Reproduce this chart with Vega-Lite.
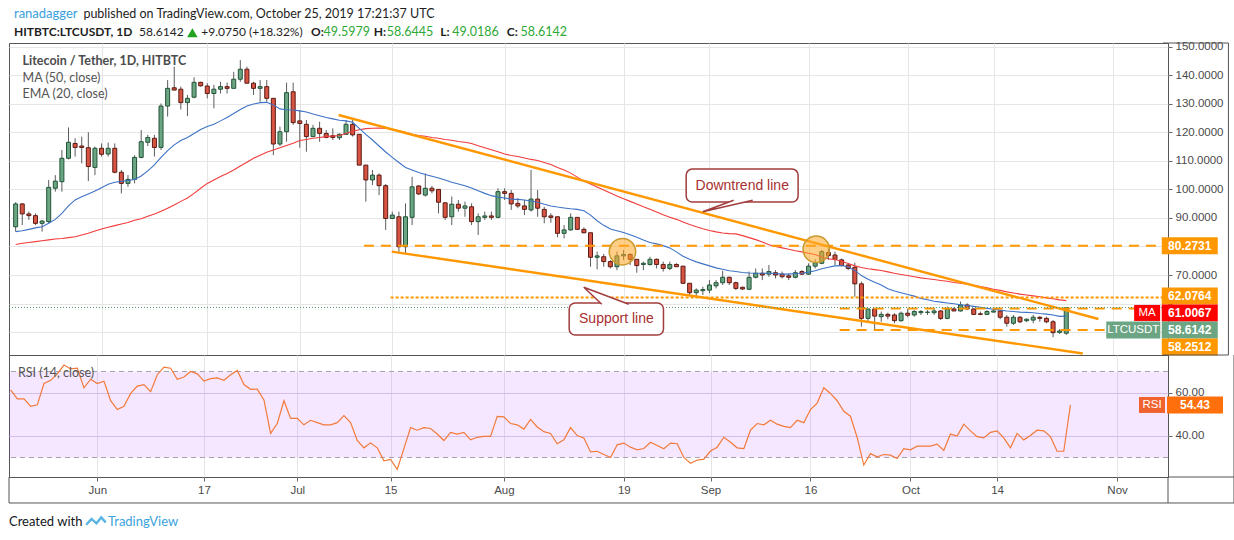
{
  "$schema": "https://vega.github.io/schema/vega-lite/v6.json",
  "background": "#ffffff",
  "padding": {"left": 7, "top": 7, "right": 0, "bottom": 0},
  "bounds": "flush",
  "spacing": 0,
  "config": {
    "font": "Liberation Sans",
    "view": {"stroke": "#555555", "strokeWidth": 1},
    "axis": {"labelColor": "#4a4a4a", "labelFontSize": 11.5, "tickColor": "#666666", "gridColor": "#e6e6e6", "domain": false}
  },
  "datasets": {
    "candles": [
      {"date": "2019-05-19", "open": 86.9, "high": 95.5, "low": 85.2, "close": 94.9, "ema": 85.2, "ma": 80.7, "rsi": 61.4},
      {"date": "2019-05-20", "open": 94.9, "high": 95.2, "low": 87.5, "close": 91.4, "ema": 85.5, "ma": 81.1, "rsi": 57.3},
      {"date": "2019-05-21", "open": 91.4, "high": 92.2, "low": 89.3, "close": 90.8, "ema": 86.0, "ma": 81.4, "rsi": 57.3},
      {"date": "2019-05-22", "open": 90.8, "high": 91.6, "low": 87.5, "close": 88.1, "ema": 86.5, "ma": 81.7, "rsi": 53.8},
      {"date": "2019-05-23", "open": 88.1, "high": 89.3, "low": 85.2, "close": 88.9, "ema": 86.9, "ma": 82.0, "rsi": 54.5},
      {"date": "2019-05-24", "open": 88.7, "high": 103.3, "low": 88.1, "close": 100.7, "ema": 88.1, "ma": 82.3, "rsi": 64.4},
      {"date": "2019-05-25", "open": 100.4, "high": 105.0, "low": 99.2, "close": 102.9, "ema": 89.5, "ma": 82.6, "rsi": 65.9},
      {"date": "2019-05-26", "open": 102.7, "high": 113.8, "low": 99.2, "close": 110.9, "ema": 91.6, "ma": 82.8, "rsi": 68.9},
      {"date": "2019-05-27", "open": 110.9, "high": 121.7, "low": 110.5, "close": 116.5, "ema": 94.2, "ma": 83.1, "rsi": 73.0},
      {"date": "2019-05-28", "open": 116.1, "high": 117.9, "low": 111.5, "close": 114.7, "ema": 96.3, "ma": 83.4, "rsi": 71.2},
      {"date": "2019-05-29", "open": 115.2, "high": 118.5, "low": 109.1, "close": 114.7, "ema": 97.4, "ma": 84.0, "rsi": 71.5},
      {"date": "2019-05-30", "open": 114.6, "high": 120.0, "low": 102.9, "close": 108.0, "ema": 98.4, "ma": 84.6, "rsi": 62.4},
      {"date": "2019-05-31", "open": 107.7, "high": 115.0, "low": 105.0, "close": 114.4, "ema": 99.4, "ma": 85.4, "rsi": 66.4},
      {"date": "2019-06-01", "open": 114.4, "high": 116.1, "low": 111.5, "close": 112.3, "ema": 100.6, "ma": 86.1, "rsi": 64.4},
      {"date": "2019-06-02", "open": 112.4, "high": 116.4, "low": 111.5, "close": 114.4, "ema": 101.8, "ma": 86.7, "rsi": 65.5},
      {"date": "2019-06-03", "open": 114.4, "high": 116.1, "low": 105.6, "close": 106.0, "ema": 102.5, "ma": 87.3, "rsi": 56.4},
      {"date": "2019-06-04", "open": 106.0, "high": 106.8, "low": 98.6, "close": 102.1, "ema": 102.8, "ma": 87.9, "rsi": 52.3},
      {"date": "2019-06-05", "open": 102.1, "high": 105.0, "low": 100.9, "close": 103.5, "ema": 103.1, "ma": 88.4, "rsi": 53.8},
      {"date": "2019-06-06", "open": 103.5, "high": 112.0, "low": 102.1, "close": 111.2, "ema": 103.5, "ma": 89.2, "rsi": 59.8},
      {"date": "2019-06-07", "open": 111.2, "high": 120.8, "low": 110.9, "close": 116.7, "ema": 104.7, "ma": 89.7, "rsi": 63.2},
      {"date": "2019-06-08", "open": 116.5, "high": 119.1, "low": 115.2, "close": 118.2, "ema": 106.5, "ma": 90.6, "rsi": 63.9},
      {"date": "2019-06-09", "open": 117.9, "high": 119.1, "low": 111.5, "close": 114.7, "ema": 108.6, "ma": 91.4, "rsi": 60.6},
      {"date": "2019-06-10", "open": 114.7, "high": 130.1, "low": 113.8, "close": 129.2, "ema": 111.2, "ma": 92.3, "rsi": 68.5},
      {"date": "2019-06-11", "open": 129.2, "high": 138.3, "low": 125.5, "close": 135.4, "ema": 113.6, "ma": 93.4, "rsi": 72.0},
      {"date": "2019-06-12", "open": 135.6, "high": 143.0, "low": 134.8, "close": 134.8, "ema": 115.6, "ma": 94.5, "rsi": 71.5},
      {"date": "2019-06-13", "open": 135.1, "high": 136.0, "low": 128.0, "close": 130.4, "ema": 117.1, "ma": 95.8, "rsi": 66.4},
      {"date": "2019-06-14", "open": 130.4, "high": 133.1, "low": 125.7, "close": 131.9, "ema": 118.2, "ma": 97.0, "rsi": 67.4},
      {"date": "2019-06-15", "open": 132.3, "high": 139.3, "low": 131.9, "close": 137.5, "ema": 119.6, "ma": 98.6, "rsi": 70.0},
      {"date": "2019-06-16", "open": 137.5, "high": 137.7, "low": 136.0, "close": 136.3, "ema": 121.0, "ma": 100.4, "rsi": 68.9},
      {"date": "2019-06-17", "open": 136.2, "high": 137.2, "low": 131.9, "close": 133.6, "ema": 122.0, "ma": 102.1, "rsi": 65.5},
      {"date": "2019-06-18", "open": 133.6, "high": 136.6, "low": 128.4, "close": 135.1, "ema": 122.8, "ma": 103.3, "rsi": 66.7},
      {"date": "2019-06-19", "open": 135.1, "high": 137.7, "low": 133.6, "close": 136.0, "ema": 124.0, "ma": 104.5, "rsi": 67.0},
      {"date": "2019-06-20", "open": 136.0, "high": 137.4, "low": 133.6, "close": 135.4, "ema": 125.2, "ma": 105.6, "rsi": 65.9},
      {"date": "2019-06-21", "open": 135.4, "high": 141.2, "low": 135.4, "close": 138.6, "ema": 126.6, "ma": 106.8, "rsi": 68.5},
      {"date": "2019-06-22", "open": 138.6, "high": 145.3, "low": 137.7, "close": 142.1, "ema": 128.0, "ma": 108.2, "rsi": 70.5},
      {"date": "2019-06-23", "open": 142.1, "high": 143.0, "low": 137.2, "close": 137.2, "ema": 129.2, "ma": 109.5, "rsi": 63.9},
      {"date": "2019-06-24", "open": 137.2, "high": 137.7, "low": 133.1, "close": 135.4, "ema": 129.9, "ma": 110.9, "rsi": 61.7},
      {"date": "2019-06-25", "open": 135.4, "high": 138.3, "low": 130.7, "close": 136.0, "ema": 130.4, "ma": 112.0, "rsi": 61.8},
      {"date": "2019-06-26", "open": 136.0, "high": 138.3, "low": 130.7, "close": 131.9, "ema": 130.5, "ma": 113.0, "rsi": 56.8},
      {"date": "2019-06-27", "open": 131.9, "high": 131.9, "low": 112.0, "close": 115.9, "ema": 129.6, "ma": 113.8, "rsi": 41.2},
      {"date": "2019-06-28", "open": 115.9, "high": 122.0, "low": 115.2, "close": 120.2, "ema": 128.2, "ma": 114.6, "rsi": 45.8},
      {"date": "2019-06-29", "open": 120.2, "high": 137.4, "low": 116.7, "close": 133.9, "ema": 127.9, "ma": 115.4, "rsi": 56.4},
      {"date": "2019-06-30", "open": 134.2, "high": 137.4, "low": 122.6, "close": 123.4, "ema": 127.8, "ma": 116.2, "rsi": 48.2},
      {"date": "2019-07-01", "open": 124.0, "high": 127.8, "low": 114.6, "close": 123.1, "ema": 127.5, "ma": 117.1, "rsi": 48.2},
      {"date": "2019-07-02", "open": 122.8, "high": 124.3, "low": 113.2, "close": 118.5, "ema": 127.1, "ma": 117.5, "rsi": 45.2},
      {"date": "2019-07-03", "open": 118.5, "high": 122.6, "low": 118.5, "close": 121.4, "ema": 126.4, "ma": 117.9, "rsi": 47.3},
      {"date": "2019-07-04", "open": 121.4, "high": 123.7, "low": 116.7, "close": 119.6, "ema": 125.8, "ma": 118.2, "rsi": 46.2},
      {"date": "2019-07-05", "open": 119.6, "high": 120.8, "low": 117.9, "close": 118.2, "ema": 125.2, "ma": 118.5, "rsi": 45.2},
      {"date": "2019-07-06", "open": 118.8, "high": 121.4, "low": 117.3, "close": 118.2, "ema": 124.7, "ma": 118.7, "rsi": 45.2},
      {"date": "2019-07-07", "open": 118.1, "high": 119.6, "low": 117.3, "close": 119.3, "ema": 124.2, "ma": 118.9, "rsi": 46.2},
      {"date": "2019-07-08", "open": 119.3, "high": 124.3, "low": 119.3, "close": 122.8, "ema": 124.0, "ma": 119.6, "rsi": 49.5},
      {"date": "2019-07-09", "open": 122.8, "high": 124.3, "low": 118.5, "close": 119.1, "ema": 123.5, "ma": 120.4, "rsi": 46.2},
      {"date": "2019-07-10", "open": 119.3, "high": 119.3, "low": 108.5, "close": 108.5, "ema": 121.4, "ma": 120.9, "rsi": 37.9},
      {"date": "2019-07-11", "open": 108.5, "high": 108.5, "low": 95.7, "close": 103.3, "ema": 119.3, "ma": 121.3, "rsi": 34.5},
      {"date": "2019-07-12", "open": 103.3, "high": 106.8, "low": 101.5, "close": 105.0, "ema": 117.3, "ma": 121.4, "rsi": 36.8},
      {"date": "2019-07-13", "open": 105.0, "high": 105.6, "low": 98.0, "close": 101.3, "ema": 115.2, "ma": 121.5, "rsi": 34.5},
      {"date": "2019-07-14", "open": 101.3, "high": 101.9, "low": 85.8, "close": 89.8, "ema": 113.1, "ma": 121.4, "rsi": 28.5},
      {"date": "2019-07-15", "open": 89.8, "high": 92.2, "low": 89.8, "close": 91.0, "ema": 111.2, "ma": 121.0, "rsi": 29.1},
      {"date": "2019-07-16", "open": 90.4, "high": 92.2, "low": 77.6, "close": 79.9, "ema": 109.4, "ma": 120.5, "rsi": 24.5},
      {"date": "2019-07-17", "open": 79.9, "high": 95.1, "low": 77.6, "close": 90.4, "ema": 107.7, "ma": 120.0, "rsi": 34.1},
      {"date": "2019-07-18", "open": 90.2, "high": 104.4, "low": 87.5, "close": 100.9, "ema": 106.8, "ma": 119.3, "rsi": 43.9},
      {"date": "2019-07-19", "open": 101.2, "high": 101.5, "low": 98.0, "close": 98.4, "ema": 105.9, "ma": 118.9, "rsi": 42.7},
      {"date": "2019-07-20", "open": 98.0, "high": 105.6, "low": 97.5, "close": 100.4, "ema": 105.2, "ma": 118.6, "rsi": 43.9},
      {"date": "2019-07-21", "open": 100.4, "high": 101.2, "low": 98.6, "close": 99.5, "ema": 104.6, "ma": 118.2, "rsi": 43.5},
      {"date": "2019-07-22", "open": 100.0, "high": 100.0, "low": 91.6, "close": 95.5, "ema": 104.0, "ma": 117.9, "rsi": 40.9},
      {"date": "2019-07-23", "open": 95.3, "high": 95.3, "low": 89.3, "close": 90.2, "ema": 103.3, "ma": 117.5, "rsi": 37.9},
      {"date": "2019-07-24", "open": 90.4, "high": 97.5, "low": 87.5, "close": 94.8, "ema": 102.5, "ma": 117.2, "rsi": 41.7},
      {"date": "2019-07-25", "open": 94.8, "high": 96.3, "low": 92.2, "close": 93.4, "ema": 101.9, "ma": 116.8, "rsi": 40.9},
      {"date": "2019-07-26", "open": 93.4, "high": 95.7, "low": 90.4, "close": 94.2, "ema": 101.3, "ma": 116.5, "rsi": 41.7},
      {"date": "2019-07-27", "open": 93.9, "high": 95.1, "low": 87.5, "close": 88.7, "ema": 100.5, "ma": 116.1, "rsi": 38.2},
      {"date": "2019-07-28", "open": 88.7, "high": 91.6, "low": 84.0, "close": 90.4, "ema": 99.5, "ma": 115.3, "rsi": 39.4},
      {"date": "2019-07-29", "open": 90.2, "high": 92.2, "low": 89.3, "close": 90.7, "ema": 98.6, "ma": 114.6, "rsi": 39.8},
      {"date": "2019-07-30", "open": 90.7, "high": 92.2, "low": 89.3, "close": 90.2, "ema": 97.8, "ma": 113.9, "rsi": 39.8},
      {"date": "2019-07-31", "open": 90.2, "high": 100.4, "low": 89.9, "close": 99.2, "ema": 97.3, "ma": 113.2, "rsi": 49.1},
      {"date": "2019-08-01", "open": 99.2, "high": 100.4, "low": 96.3, "close": 98.6, "ema": 97.0, "ma": 112.4, "rsi": 48.9},
      {"date": "2019-08-02", "open": 98.6, "high": 99.8, "low": 92.8, "close": 94.9, "ema": 96.6, "ma": 111.9, "rsi": 45.8},
      {"date": "2019-08-03", "open": 95.1, "high": 96.9, "low": 93.4, "close": 94.2, "ema": 96.5, "ma": 111.5, "rsi": 45.2},
      {"date": "2019-08-04", "open": 94.2, "high": 96.3, "low": 91.0, "close": 93.0, "ema": 96.3, "ma": 111.0, "rsi": 43.2},
      {"date": "2019-08-05", "open": 92.8, "high": 106.8, "low": 92.2, "close": 96.6, "ema": 95.9, "ma": 110.5, "rsi": 47.7},
      {"date": "2019-08-06", "open": 96.6, "high": 99.8, "low": 90.4, "close": 93.4, "ema": 95.5, "ma": 110.1, "rsi": 44.2},
      {"date": "2019-08-07", "open": 93.0, "high": 93.9, "low": 88.1, "close": 90.4, "ema": 94.8, "ma": 109.4, "rsi": 42.0},
      {"date": "2019-08-08", "open": 90.7, "high": 91.6, "low": 88.3, "close": 90.2, "ema": 94.2, "ma": 108.7, "rsi": 41.2},
      {"date": "2019-08-09", "open": 90.4, "high": 90.4, "low": 83.2, "close": 84.6, "ema": 93.8, "ma": 107.7, "rsi": 36.4},
      {"date": "2019-08-10", "open": 84.6, "high": 87.5, "low": 82.8, "close": 85.8, "ema": 93.5, "ma": 106.8, "rsi": 38.2},
      {"date": "2019-08-11", "open": 85.8, "high": 91.6, "low": 85.5, "close": 90.2, "ema": 93.2, "ma": 105.7, "rsi": 43.9},
      {"date": "2019-08-12", "open": 90.2, "high": 90.2, "low": 85.8, "close": 86.0, "ema": 93.0, "ma": 104.3, "rsi": 40.2},
      {"date": "2019-08-13", "open": 86.0, "high": 86.7, "low": 84.6, "close": 84.8, "ema": 92.5, "ma": 102.9, "rsi": 39.1},
      {"date": "2019-08-14", "open": 84.8, "high": 84.8, "low": 72.9, "close": 76.2, "ema": 91.0, "ma": 101.9, "rsi": 32.6},
      {"date": "2019-08-15", "open": 76.2, "high": 78.2, "low": 72.0, "close": 76.7, "ema": 89.0, "ma": 100.8, "rsi": 32.9},
      {"date": "2019-08-16", "open": 76.4, "high": 77.4, "low": 72.9, "close": 74.7, "ema": 87.4, "ma": 99.8, "rsi": 31.4},
      {"date": "2019-08-17", "open": 74.7, "high": 75.2, "low": 72.3, "close": 72.9, "ema": 86.1, "ma": 98.7, "rsi": 30.0},
      {"date": "2019-08-18", "open": 72.9, "high": 78.2, "low": 71.7, "close": 76.7, "ema": 85.5, "ma": 97.7, "rsi": 35.9},
      {"date": "2019-08-19", "open": 76.7, "high": 78.8, "low": 75.2, "close": 77.2, "ema": 84.9, "ma": 96.7, "rsi": 36.7},
      {"date": "2019-08-20", "open": 77.2, "high": 77.6, "low": 73.5, "close": 75.5, "ema": 84.1, "ma": 95.8, "rsi": 34.8},
      {"date": "2019-08-21", "open": 75.5, "high": 75.5, "low": 70.8, "close": 73.3, "ema": 83.2, "ma": 94.9, "rsi": 33.6},
      {"date": "2019-08-22", "open": 73.7, "high": 74.7, "low": 71.7, "close": 74.1, "ema": 82.3, "ma": 93.9, "rsi": 34.2},
      {"date": "2019-08-23", "open": 73.7, "high": 76.4, "low": 73.3, "close": 75.5, "ema": 81.4, "ma": 93.0, "rsi": 37.1},
      {"date": "2019-08-24", "open": 75.5, "high": 75.8, "low": 72.3, "close": 73.7, "ema": 80.9, "ma": 92.1, "rsi": 35.6},
      {"date": "2019-08-25", "open": 73.7, "high": 74.7, "low": 71.2, "close": 72.3, "ema": 80.3, "ma": 91.1, "rsi": 34.1},
      {"date": "2019-08-26", "open": 72.3, "high": 74.7, "low": 71.7, "close": 73.7, "ema": 79.5, "ma": 90.2, "rsi": 36.7},
      {"date": "2019-08-27", "open": 73.7, "high": 74.1, "low": 72.9, "close": 72.9, "ema": 78.1, "ma": 89.5, "rsi": 36.4},
      {"date": "2019-08-28", "open": 73.1, "high": 73.1, "low": 66.8, "close": 67.1, "ema": 76.6, "ma": 88.6, "rsi": 30.0},
      {"date": "2019-08-29", "open": 67.1, "high": 67.1, "low": 63.0, "close": 63.8, "ema": 75.5, "ma": 87.7, "rsi": 27.3},
      {"date": "2019-08-30", "open": 63.8, "high": 65.3, "low": 62.4, "close": 64.7, "ema": 74.6, "ma": 86.9, "rsi": 28.8},
      {"date": "2019-08-31", "open": 64.5, "high": 65.9, "low": 63.0, "close": 64.9, "ema": 73.9, "ma": 86.2, "rsi": 29.2},
      {"date": "2019-09-01", "open": 64.7, "high": 68.2, "low": 63.6, "close": 66.5, "ema": 73.2, "ma": 85.6, "rsi": 33.0},
      {"date": "2019-09-02", "open": 66.2, "high": 68.2, "low": 65.3, "close": 67.3, "ema": 72.5, "ma": 85.1, "rsi": 34.8},
      {"date": "2019-09-03", "open": 67.3, "high": 71.5, "low": 66.5, "close": 69.2, "ema": 72.0, "ma": 84.7, "rsi": 39.4},
      {"date": "2019-09-04", "open": 69.2, "high": 69.4, "low": 66.5, "close": 67.3, "ema": 71.5, "ma": 84.5, "rsi": 37.1},
      {"date": "2019-09-05", "open": 67.3, "high": 67.7, "low": 64.7, "close": 65.3, "ema": 71.2, "ma": 84.4, "rsi": 34.5},
      {"date": "2019-09-06", "open": 65.7, "high": 65.9, "low": 64.7, "close": 65.1, "ema": 70.9, "ma": 83.8, "rsi": 34.1},
      {"date": "2019-09-07", "open": 65.0, "high": 71.2, "low": 64.7, "close": 69.2, "ema": 70.7, "ma": 83.1, "rsi": 42.7},
      {"date": "2019-09-08", "open": 69.2, "high": 72.3, "low": 68.8, "close": 70.6, "ema": 70.6, "ma": 82.4, "rsi": 45.8},
      {"date": "2019-09-09", "open": 70.6, "high": 72.3, "low": 68.2, "close": 70.0, "ema": 70.6, "ma": 81.6, "rsi": 45.2},
      {"date": "2019-09-10", "open": 70.3, "high": 73.5, "low": 69.4, "close": 71.2, "ema": 70.6, "ma": 80.6, "rsi": 47.3},
      {"date": "2019-09-11", "open": 70.8, "high": 71.7, "low": 68.8, "close": 70.0, "ema": 70.5, "ma": 80.0, "rsi": 45.5},
      {"date": "2019-09-12", "open": 70.3, "high": 71.2, "low": 68.8, "close": 69.4, "ema": 70.3, "ma": 79.5, "rsi": 44.5},
      {"date": "2019-09-13", "open": 69.7, "high": 70.6, "low": 68.2, "close": 69.2, "ema": 70.3, "ma": 79.0, "rsi": 43.9},
      {"date": "2019-09-14", "open": 69.2, "high": 71.7, "low": 68.8, "close": 70.8, "ema": 70.5, "ma": 78.5, "rsi": 47.3},
      {"date": "2019-09-15", "open": 71.2, "high": 71.7, "low": 70.0, "close": 70.3, "ema": 70.6, "ma": 78.1, "rsi": 46.2},
      {"date": "2019-09-16", "open": 70.3, "high": 74.1, "low": 70.0, "close": 73.1, "ema": 71.0, "ma": 77.6, "rsi": 52.3},
      {"date": "2019-09-17", "open": 73.1, "high": 75.5, "low": 72.3, "close": 74.3, "ema": 71.5, "ma": 77.2, "rsi": 55.3},
      {"date": "2019-09-18", "open": 74.1, "high": 78.8, "low": 73.8, "close": 78.2, "ema": 72.2, "ma": 76.2, "rsi": 62.4},
      {"date": "2019-09-19", "open": 77.9, "high": 79.3, "low": 75.3, "close": 76.8, "ema": 72.7, "ma": 75.7, "rsi": 59.8},
      {"date": "2019-09-20", "open": 77.0, "high": 78.2, "low": 73.5, "close": 75.5, "ema": 73.2, "ma": 75.4, "rsi": 56.4},
      {"date": "2019-09-21", "open": 75.3, "high": 75.8, "low": 73.0, "close": 73.3, "ema": 73.3, "ma": 74.8, "rsi": 51.5},
      {"date": "2019-09-22", "open": 73.5, "high": 74.1, "low": 71.7, "close": 72.3, "ema": 72.8, "ma": 74.0, "rsi": 49.2},
      {"date": "2019-09-23", "open": 72.7, "high": 74.3, "low": 62.4, "close": 66.9, "ema": 71.6, "ma": 73.2, "rsi": 39.4},
      {"date": "2019-09-24", "open": 66.9, "high": 67.7, "low": 51.9, "close": 54.8, "ema": 69.8, "ma": 72.6, "rsi": 26.5},
      {"date": "2019-09-25", "open": 54.8, "high": 58.1, "low": 53.6, "close": 58.1, "ema": 68.5, "ma": 72.2, "rsi": 31.8},
      {"date": "2019-09-26", "open": 58.1, "high": 58.1, "low": 50.7, "close": 55.6, "ema": 67.5, "ma": 71.9, "rsi": 30.3},
      {"date": "2019-09-27", "open": 55.4, "high": 57.2, "low": 53.6, "close": 56.2, "ema": 66.5, "ma": 71.6, "rsi": 31.4},
      {"date": "2019-09-28", "open": 56.2, "high": 56.8, "low": 54.5, "close": 55.6, "ema": 65.2, "ma": 71.1, "rsi": 31.1},
      {"date": "2019-09-29", "open": 56.0, "high": 56.6, "low": 53.1, "close": 54.0, "ema": 64.4, "ma": 70.6, "rsi": 29.5},
      {"date": "2019-09-30", "open": 54.0, "high": 57.2, "low": 53.6, "close": 56.6, "ema": 63.8, "ma": 70.2, "rsi": 34.1},
      {"date": "2019-10-01", "open": 56.6, "high": 58.1, "low": 55.2, "close": 55.9, "ema": 63.2, "ma": 69.8, "rsi": 33.6},
      {"date": "2019-10-02", "open": 56.0, "high": 57.7, "low": 55.4, "close": 57.2, "ema": 62.6, "ma": 69.4, "rsi": 35.3},
      {"date": "2019-10-03", "open": 56.8, "high": 57.7, "low": 56.0, "close": 57.2, "ema": 61.8, "ma": 69.0, "rsi": 35.3},
      {"date": "2019-10-04", "open": 56.9, "high": 57.7, "low": 56.0, "close": 57.0, "ema": 61.3, "ma": 68.7, "rsi": 35.3},
      {"date": "2019-10-05", "open": 56.8, "high": 58.3, "low": 56.0, "close": 57.4, "ema": 60.8, "ma": 68.4, "rsi": 36.2},
      {"date": "2019-10-06", "open": 57.4, "high": 57.7, "low": 54.2, "close": 54.8, "ema": 60.5, "ma": 68.1, "rsi": 33.3},
      {"date": "2019-10-07", "open": 54.8, "high": 58.9, "low": 54.5, "close": 58.1, "ema": 60.2, "ma": 67.8, "rsi": 40.9},
      {"date": "2019-10-08", "open": 58.1, "high": 58.7, "low": 57.4, "close": 57.4, "ema": 59.9, "ma": 67.4, "rsi": 40.0},
      {"date": "2019-10-09", "open": 57.4, "high": 60.7, "low": 57.2, "close": 59.5, "ema": 59.6, "ma": 67.1, "rsi": 45.5},
      {"date": "2019-10-10", "open": 59.5, "high": 60.1, "low": 57.7, "close": 58.1, "ema": 59.3, "ma": 66.8, "rsi": 42.4},
      {"date": "2019-10-11", "open": 58.1, "high": 58.3, "low": 56.0, "close": 56.2, "ema": 59.0, "ma": 66.4, "rsi": 39.7},
      {"date": "2019-10-12", "open": 56.4, "high": 57.2, "low": 55.9, "close": 56.2, "ema": 58.7, "ma": 66.0, "rsi": 39.1},
      {"date": "2019-10-13", "open": 56.2, "high": 57.7, "low": 56.0, "close": 57.2, "ema": 58.3, "ma": 65.5, "rsi": 41.7},
      {"date": "2019-10-14", "open": 57.0, "high": 58.0, "low": 57.0, "close": 57.4, "ema": 58.0, "ma": 65.0, "rsi": 42.4},
      {"date": "2019-10-15", "open": 57.4, "high": 57.7, "low": 54.5, "close": 55.2, "ema": 57.7, "ma": 64.6, "rsi": 39.1},
      {"date": "2019-10-16", "open": 55.2, "high": 56.0, "low": 51.9, "close": 53.1, "ema": 57.4, "ma": 64.1, "rsi": 34.5},
      {"date": "2019-10-17", "open": 53.1, "high": 56.0, "low": 52.5, "close": 55.2, "ema": 57.2, "ma": 63.7, "rsi": 41.2},
      {"date": "2019-10-18", "open": 55.2, "high": 55.6, "low": 53.1, "close": 53.6, "ema": 57.0, "ma": 63.3, "rsi": 38.2},
      {"date": "2019-10-19", "open": 54.0, "high": 54.8, "low": 53.5, "close": 54.5, "ema": 56.9, "ma": 63.0, "rsi": 40.2},
      {"date": "2019-10-20", "open": 54.2, "high": 56.0, "low": 53.1, "close": 55.2, "ema": 56.8, "ma": 62.7, "rsi": 42.7},
      {"date": "2019-10-21", "open": 55.2, "high": 55.6, "low": 53.6, "close": 54.8, "ema": 56.5, "ma": 62.4, "rsi": 42.4},
      {"date": "2019-10-22", "open": 54.8, "high": 55.4, "low": 53.1, "close": 53.6, "ema": 56.3, "ma": 62.0, "rsi": 39.7},
      {"date": "2019-10-23", "open": 53.6, "high": 54.2, "low": 48.2, "close": 49.8, "ema": 56.0, "ma": 61.7, "rsi": 32.9},
      {"date": "2019-10-24", "open": 49.9, "high": 51.0, "low": 49.3, "close": 50.4, "ema": 55.5, "ma": 61.3, "rsi": 32.9},
      {"date": "2019-10-25", "open": 49.5979, "high": 58.6445, "low": 49.0186, "close": 58.6142, "ema": 55.6, "ma": 61.0067, "rsi": 54.43}
    ],
    "trend": [
      {"line": "Downtrend line", "date": "2019-07-06T21:00:00Z", "price": 126.06},
      {"line": "Downtrend line", "date": "2019-10-29T21:00:00Z", "price": 54.58},
      {"line": "Support line", "date": "2019-07-14T22:00:00Z", "price": 78.2},
      {"line": "Support line", "date": "2019-10-27T12:00:00Z", "price": 42.5}
    ],
    "levels": [
      {"price": 80.2731, "date": "2019-07-10T17:00:00Z", "end": "2019-11-08T15:22:00Z", "style": "dashed"},
      {"price": 62.0764, "date": "2019-07-14T18:00:00Z", "end": "2019-11-08T15:22:00Z", "style": "dotted"},
      {"price": 58.2512, "date": "2019-09-20T17:00:00Z", "end": "2019-11-08T15:22:00Z", "style": "dashed"},
      {"price": 50.7, "date": "2019-09-20T17:00:00Z", "end": "2019-11-08T15:22:00Z", "style": "dashed"}
    ],
    "circles": [
      {"date": "2019-08-18T20:00:00Z", "price": 78.16},
      {"date": "2019-09-17T04:00:00Z", "price": 79.0}
    ],
    "callouts": [
      {"label": "Downtrend line", "date": "2019-08-28T11:30:00Z", "end": "2019-09-14T10:00:00Z", "top": 107.1, "bottom": 95.6, "mid": "2019-09-05T23:00:00Z", "center": 101.35},
      {"label": "Support line", "date": "2019-08-10T18:30:00Z", "end": "2019-08-25T01:00:00Z", "top": 60.2, "bottom": 49.0, "mid": "2019-08-17T22:00:00Z", "center": 54.6}
    ],
    "tags": [
      {"label": "80.2731", "level": 80.2731, "kind": "level"},
      {"label": "62.0764", "level": 62.6, "kind": "level"},
      {"label": "61.0067", "level": 56.7, "kind": "ma"},
      {"label": "58.6142", "level": 50.7, "kind": "last"},
      {"label": "58.2512", "level": 44.8, "kind": "level"}
    ]
  },
  "vconcat": [
    {
      "width": 1159,
      "height": 312,
      "data": {"name": "candles"},
      "layer": [
        {
          "mark": {"type": "rule", "color": "#5c5c5c", "strokeWidth": 1},
          "encoding": {
            "x": {
              "field": "date", "type": "temporal",
              "scale": {"type": "utc", "domain": [{"year": 2019, "month": 5, "date": 18, "hours": 18, "utc": true}, {"year": 2019, "month": 11, "date": 8, "hours": 15, "minutes": 22, "utc": true}]},
              "axis": {
                "values": [{"year": 2019, "month": 6, "date": 1, "utc": true}, {"year": 2019, "month": 6, "date": 17, "utc": true}, {"year": 2019, "month": 7, "date": 1, "utc": true}, {"year": 2019, "month": 7, "date": 15, "utc": true}, {"year": 2019, "month": 8, "date": 1, "utc": true}, {"year": 2019, "month": 8, "date": 19, "utc": true}, {"year": 2019, "month": 9, "date": 1, "utc": true}, {"year": 2019, "month": 9, "date": 16, "utc": true}, {"year": 2019, "month": 10, "date": 1, "utc": true}, {"year": 2019, "month": 10, "date": 14, "utc": true}, {"year": 2019, "month": 11, "date": 1, "utc": true}],
                "tickCount": 40,
                "labels": false, "ticks": false, "domain": false, "grid": true, "title": null
              }
            },
            "y": {
              "field": "low", "type": "quantitative",
              "scale": {"domain": [41.97, 151.29], "nice": false, "zero": false},
              "axis": {
                "orient": "right",
                "values": [50, 60, 70, 80, 90, 100, 110, 120, 130, 140, 150],
                "tickCount": 20,
                "labelExpr": "datum.value == 50 || datum.value == 60 || datum.value == 80 ? '' : format(datum.value, '.4f')",
                "labelOverlap": false, "labelFlush": false,
                "tickSize": 4, "labelPadding": 3, "grid": true, "title": null
              }
            },
            "y2": {"field": "high"}
          }
        },
        {
          "mark": {"type": "bar", "width": 4, "strokeWidth": 1},
          "encoding": {
            "x": {"field": "date", "type": "temporal"},
            "y": {"field": "open", "type": "quantitative"},
            "y2": {"field": "close"},
            "fill": {"condition": {"test": "datum.close >= datum.open", "value": "#6ba583"}, "value": "#d75442"},
            "stroke": {"condition": {"test": "datum.close >= datum.open", "value": "#225437"}, "value": "#5b1a13"}
          }
        },
        {
          "mark": {"type": "line", "color": "#f23b3b", "strokeWidth": 1.1},
          "encoding": {
            "x": {"field": "date", "type": "temporal"},
            "y": {"field": "ma", "type": "quantitative"}
          }
        },
        {
          "mark": {"type": "line", "color": "#3d72c6", "strokeWidth": 1.1},
          "encoding": {
            "x": {"field": "date", "type": "temporal"},
            "y": {"field": "ema", "type": "quantitative"}
          }
        },
        {
          "data": {"name": "trend"},
          "mark": {"type": "line", "color": "#ff9800", "strokeWidth": 2.4},
          "encoding": {
            "x": {"field": "date", "type": "temporal"},
            "y": {"field": "price", "type": "quantitative"},
            "detail": {"field": "line"}
          }
        },
        {
          "data": {"name": "levels"},
          "mark": {"type": "rule", "color": "#ff9800", "strokeWidth": 2},
          "encoding": {
            "x": {"field": "date", "type": "temporal"},
            "x2": {"field": "end"},
            "y": {"field": "price", "type": "quantitative"},
            "strokeDash": {"field": "style", "type": "nominal", "scale": {"domain": ["dashed", "dotted"], "range": [[10, 7], [3, 2]]}, "legend": null}
          }
        },
        {
          "data": {"values": [{"price": 58.6142}]},
          "mark": {"type": "rule", "color": "#4f9a6c", "strokeWidth": 1, "strokeDash": [1, 2]},
          "encoding": {
            "y": {"field": "price", "type": "quantitative"}
          }
        },
        {
          "data": {"name": "circles"},
          "mark": {"type": "point", "shape": "circle", "size": 700, "filled": true, "fill": "#ffa726", "fillOpacity": 0.55, "stroke": "#c99a2e", "strokeWidth": 1.5, "strokeOpacity": 1},
          "encoding": {
            "x": {"field": "date", "type": "temporal"},
            "y": {"field": "price", "type": "quantitative"}
          }
        },
        {
          "data": {"name": "callouts"},
          "mark": {"type": "rect", "fill": "#ffffff", "stroke": "#a13d3d", "strokeWidth": 1.5, "cornerRadius": 6},
          "encoding": {
            "x": {"field": "date", "type": "temporal"},
            "x2": {"field": "end"},
            "y": {"field": "top", "type": "quantitative"},
            "y2": {"field": "bottom"}
          }
        },
        {
          "data": {"values": [{"date": "2019-08-30T23:30:00Z", "price": 92.18}]},
          "mark": {"type": "point", "shape": "M31,-11.5L0,0L50,-11.5", "size": 4, "filled": true, "fill": "#ffffff", "stroke": "#a13d3d", "strokeWidth": 1.5, "opacity": 1},
          "encoding": {
            "x": {"field": "date", "type": "temporal"},
            "y": {"field": "price", "type": "quantitative"}
          }
        },
        {
          "data": {"values": [{"date": "2019-08-12T23:30:00Z", "price": 65.69}]},
          "mark": {"type": "point", "shape": "M18,17L0,0L45,17", "size": 4, "filled": true, "fill": "#ffffff", "stroke": "#a13d3d", "strokeWidth": 1.5, "opacity": 1},
          "encoding": {
            "x": {"field": "date", "type": "temporal"},
            "y": {"field": "price", "type": "quantitative"}
          }
        },
        {
          "data": {"name": "callouts"},
          "mark": {"type": "text", "color": "#a8302f", "fontSize": 14, "align": "center", "baseline": "middle"},
          "encoding": {
            "x": {"field": "mid", "type": "temporal"},
            "y": {"field": "center", "type": "quantitative"},
            "text": {"field": "label"}
          }
        },
        {
          "data": {"values": [{"text": "Litecoin / Tether, 1D, HITBTC", "date": "2019-05-20T01:00:00Z", "price": 145.0}]},
          "mark": {"type": "text", "font": "Lato", "fontSize": 12.5, "fontWeight": "bold", "color": "#4c4c4c", "align": "left", "baseline": "middle"},
          "encoding": {
            "x": {"field": "date", "type": "temporal"},
            "y": {"field": "price", "type": "quantitative"},
            "text": {"field": "text"}
          }
        },
        {
          "data": {"values": [{"text": "MA (50, close)", "date": "2019-05-20T01:00:00Z", "price": 139.2}, {"text": "EMA (20, close)", "date": "2019-05-20T01:00:00Z", "price": 133.4}]},
          "mark": {"type": "text", "font": "Lato", "fontSize": 12.5, "color": "#555555", "align": "left", "baseline": "middle"},
          "encoding": {
            "x": {"field": "date", "type": "temporal"},
            "y": {"field": "price", "type": "quantitative"},
            "text": {"field": "text"}
          }
        },
        {
          "data": {"values": [{"text": "ranadagger", "date": "2019-05-18T18:00:00Z", "price": 161.3}]},
          "mark": {"type": "text", "font": "Lato", "fontSize": 13, "color": "#3aa0dc", "align": "left", "baseline": "middle"},
          "encoding": {
            "x": {"field": "date", "type": "temporal"},
            "y": {"field": "price", "type": "quantitative"},
            "text": {"field": "text"}
          }
        },
        {
          "data": {"values": [
            {"text": "published on TradingView.com, October 25, 2019 17:21:37 UTC", "date": "2019-05-29T06:00:00Z", "price": 161.3}
          ]},
          "mark": {"type": "text", "font": "Lato", "fontSize": 12.5, "color": "#1e1e1e", "align": "left", "baseline": "middle"},
          "encoding": {
            "x": {"field": "date", "type": "temporal"},
            "y": {"field": "price", "type": "quantitative"},
            "text": {"field": "text"}
          }
        },
        {
          "data": {"values": [
            {"text": "58.6142", "date": "2019-06-06T16:00:00Z", "price": 155.15},
            {"text": "+9.0750 (+18.32%)", "date": "2019-06-16T02:30:00Z", "price": 155.15}
          ]},
          "mark": {"type": "text", "font": "Lato", "fontSize": 12, "color": "#1e1e1e", "align": "left", "baseline": "middle"},
          "encoding": {
            "x": {"field": "date", "type": "temporal"},
            "y": {"field": "price", "type": "quantitative"},
            "text": {"field": "text"}
          }
        },
        {
          "data": {"values": [
            {"text": "HITBTC:LTCUSDT, 1D", "date": "2019-05-18T18:00:00Z", "price": 155.15},
            {"text": "O:", "date": "2019-07-02T16:30:00Z", "price": 155.15},
            {"text": "H:", "date": "2019-07-12T05:00:00Z", "price": 155.15},
            {"text": "L:", "date": "2019-07-22T06:30:00Z", "price": 155.15},
            {"text": "C:", "date": "2019-08-01T07:40:00Z", "price": 155.15}
          ]},
          "mark": {"type": "text", "font": "Lato", "fontSize": 12, "fontWeight": "bold", "color": "#1e1e1e", "align": "left", "baseline": "middle"},
          "encoding": {
            "x": {"field": "date", "type": "temporal"},
            "y": {"field": "price", "type": "quantitative"},
            "text": {"field": "text"}
          }
        },
        {
          "data": {"values": [
            {"text": "49.5979", "date": "2019-07-04T14:30:00Z", "price": 155.15},
            {"text": "58.6445", "date": "2019-07-14T04:00:00Z", "price": 155.15},
            {"text": "49.0186", "date": "2019-07-24T01:40:00Z", "price": 155.15},
            {"text": "58.6142", "date": "2019-08-03T10:00:00Z", "price": 155.15}
          ]},
          "mark": {"type": "text", "font": "Lato", "fontSize": 12.5, "color": "#2ea836", "align": "left", "baseline": "middle"},
          "encoding": {
            "x": {"field": "date", "type": "temporal"},
            "y": {"field": "price", "type": "quantitative"},
            "text": {"field": "text"}
          }
        },
        {
          "data": {"values": [{"date": "2019-06-14T18:00:00Z", "price": 154.9}]},
          "mark": {"type": "point", "shape": "triangle-up", "size": 110, "filled": true, "color": "#22a31f", "opacity": 1},
          "encoding": {
            "x": {"field": "date", "type": "temporal"},
            "y": {"field": "price", "type": "quantitative"}
          }
        },
        {
          "data": {"name": "tags"},
          "mark": {"type": "point", "shape": "M-1,-0.3036H1V0.3036H-1Z", "size": 3136, "filled": true, "opacity": 1, "strokeWidth": 0},
          "encoding": {
            "x": {"datum": {"year": 2019, "month": 11, "date": 12, "hours": 16, "minutes": 35, "utc": true}, "type": "temporal"},
            "y": {"field": "level", "type": "quantitative"},
            "fill": {"field": "kind", "type": "nominal", "scale": {"domain": ["level", "ma", "last"], "range": ["#ff9800", "#ff0000", "#6ba583"]}, "legend": null}
          }
        },
        {
          "data": {"values": [{"label": "MA", "level": 56.7, "kind": "ma"}]},
          "mark": {"type": "point", "shape": "M-1,-0.615H1V0.615H-1Z", "size": 676, "filled": true, "opacity": 1, "strokeWidth": 0},
          "encoding": {
            "x": {"datum": {"year": 2019, "month": 11, "date": 6, "hours": 5, "minutes": 45, "utc": true}, "type": "temporal"},
            "y": {"field": "level", "type": "quantitative"},
            "fill": {"field": "kind", "type": "nominal", "legend": null}
          }
        },
        {
          "data": {"values": [{"label": "LTCUSDT", "level": 50.7, "kind": "last"}]},
          "mark": {"type": "point", "shape": "M-1,-0.315H1V0.315H-1Z", "size": 2916, "filled": true, "opacity": 1, "strokeWidth": 0},
          "encoding": {
            "x": {"datum": {"year": 2019, "month": 11, "date": 4, "hours": 3, "minutes": 20, "utc": true}, "type": "temporal"},
            "y": {"field": "level", "type": "quantitative"},
            "fill": {"field": "kind", "type": "nominal", "legend": null}
          }
        },
        {
          "data": {"name": "tags"},
          "mark": {"type": "text", "color": "#ffffff", "fontSize": 12, "fontWeight": "bold", "align": "center", "baseline": "middle"},
          "encoding": {
            "x": {"datum": {"year": 2019, "month": 11, "date": 12, "hours": 16, "minutes": 35, "utc": true}, "type": "temporal"},
            "y": {"field": "level", "type": "quantitative"},
            "text": {"field": "label"}
          }
        },
        {
          "data": {"values": [{"label": "MA", "level": 56.7}]},
          "mark": {"type": "text", "color": "#ffffff", "fontSize": 11.5, "align": "center", "baseline": "middle"},
          "encoding": {
            "x": {"datum": {"year": 2019, "month": 11, "date": 6, "hours": 5, "minutes": 45, "utc": true}, "type": "temporal"},
            "y": {"field": "level", "type": "quantitative"},
            "text": {"field": "label"}
          }
        },
        {
          "data": {"values": [{"label": "LTCUSDT", "level": 50.7}]},
          "mark": {"type": "text", "color": "#ffffff", "fontSize": 11.5, "align": "center", "baseline": "middle"},
          "encoding": {
            "x": {"datum": {"year": 2019, "month": 11, "date": 4, "hours": 3, "minutes": 20, "utc": true}, "type": "temporal"},
            "y": {"field": "level", "type": "quantitative"},
            "text": {"field": "label"}
          }
        },
        {
          "data": {"values": [{}]},
          "mark": {"type": "rule", "color": "#555555", "strokeWidth": 1},
          "encoding": {
            "x": {"datum": {"year": 2019, "month": 11, "date": 8, "hours": 15, "minutes": 22, "utc": true}, "type": "temporal"},
            "x2": {"datum": {"year": 2019, "month": 11, "date": 18, "hours": 13, "utc": true}},
            "y": {"datum": 151.29, "type": "quantitative"}
          }
        },
        {
          "data": {"values": [{}]},
          "mark": {"type": "rule", "color": "#555555", "strokeWidth": 1},
          "encoding": {
            "x": {"datum": {"year": 2019, "month": 11, "date": 8, "hours": 15, "minutes": 22, "utc": true}, "type": "temporal"},
            "x2": {"datum": {"year": 2019, "month": 11, "date": 18, "hours": 13, "utc": true}},
            "y": {"datum": 41.97, "type": "quantitative"}
          }
        },
        {
          "data": {"values": [{}]},
          "mark": {"type": "rule", "color": "#555555", "strokeWidth": 1},
          "encoding": {
            "x": {"datum": {"year": 2019, "month": 11, "date": 18, "hours": 13, "utc": true}, "type": "temporal"},
            "y": {"datum": 151.29, "type": "quantitative"},
            "y2": {"datum": 41.97}
          }
        }
      ]
    },
    {
      "width": 1159,
      "height": 122,
      "data": {"name": "candles"},
      "layer": [
        {
          "data": {"values": [{}]},
          "mark": {"type": "rect", "fill": "#9915ff", "fillOpacity": 0.1},
          "encoding": {
            "x": {"datum": {"year": 2019, "month": 5, "date": 18, "hours": 18, "utc": true}, "type": "temporal"},
            "x2": {"datum": {"year": 2019, "month": 11, "date": 8, "hours": 15, "minutes": 22, "utc": true}},
            "y": {"datum": 30, "type": "quantitative"},
            "y2": {"datum": 70}
          }
        },
        {
          "data": {"values": [{"bound": 30}, {"bound": 70}]},
          "mark": {"type": "rule", "color": "#a8a2ae", "strokeWidth": 1, "strokeDash": [5, 4]},
          "encoding": {
            "y": {"field": "bound", "type": "quantitative"}
          }
        },
        {
          "mark": {"type": "line", "color": "#f27a3a", "strokeWidth": 1.2},
          "encoding": {
            "x": {
              "field": "date", "type": "temporal",
              "scale": {"type": "utc", "domain": [{"year": 2019, "month": 5, "date": 18, "hours": 18, "utc": true}, {"year": 2019, "month": 11, "date": 8, "hours": 15, "minutes": 22, "utc": true}]},
              "axis": {
                "values": [{"year": 2019, "month": 6, "date": 1, "utc": true}, {"year": 2019, "month": 6, "date": 17, "utc": true}, {"year": 2019, "month": 7, "date": 1, "utc": true}, {"year": 2019, "month": 7, "date": 15, "utc": true}, {"year": 2019, "month": 8, "date": 1, "utc": true}, {"year": 2019, "month": 8, "date": 19, "utc": true}, {"year": 2019, "month": 9, "date": 1, "utc": true}, {"year": 2019, "month": 9, "date": 16, "utc": true}, {"year": 2019, "month": 10, "date": 1, "utc": true}, {"year": 2019, "month": 10, "date": 14, "utc": true}, {"year": 2019, "month": 11, "date": 1, "utc": true}],
                "tickCount": 40,
                "labelExpr": "utcFormat(datum.value, '%d') == '01' ? utcFormat(datum.value, '%b') : utcFormat(datum.value, '%-d')",
                "labelFlush": false, "labelOverlap": false, "tickSize": 4, "labelPadding": 3, "grid": true, "domain": false, "title": null
              }
            },
            "y": {
              "field": "rsi", "type": "quantitative",
              "scale": {"domain": [20.93, 77.67], "nice": false, "zero": false},
              "axis": {"orient": "right", "values": [40, 60], "tickCount": 10, "format": ".2f", "tickSize": 4, "labelPadding": 3, "grid": true, "gridColor": "#ddd2e8", "title": null}
            }
          }
        },
        {
          "data": {"values": [{"text": "RSI (14, close)", "date": "2019-05-20T02:00:00Z", "rsi": 69.3}]},
          "mark": {"type": "text", "font": "Lato", "fontSize": 12.5, "color": "#555555", "align": "left", "baseline": "middle"},
          "encoding": {
            "x": {"field": "date", "type": "temporal"},
            "y": {"field": "rsi", "type": "quantitative"},
            "text": {"field": "text"}
          }
        },
        {
          "data": {"values": [{"label": "54.43", "rsi": 54.43}]},
          "mark": {"type": "point", "shape": "M-1,-0.3036H1V0.3036H-1Z", "size": 3136, "filled": true, "opacity": 1, "strokeWidth": 0, "fill": "#ff6f0b"},
          "encoding": {
            "x": {"datum": {"year": 2019, "month": 11, "date": 12, "hours": 16, "minutes": 35, "utc": true}, "type": "temporal"},
            "y": {"field": "rsi", "type": "quantitative"}
          }
        },
        {
          "data": {"values": [{"label": "RSI", "rsi": 54.43}]},
          "mark": {"type": "point", "shape": "M-1,-0.615H1V0.615H-1Z", "size": 676, "filled": true, "opacity": 1, "strokeWidth": 0, "fill": "#f0632f"},
          "encoding": {
            "x": {"datum": {"year": 2019, "month": 11, "date": 6, "hours": 5, "minutes": 45, "utc": true}, "type": "temporal"},
            "y": {"field": "rsi", "type": "quantitative"}
          }
        },
        {
          "data": {"values": [{"label": "54.43", "rsi": 54.43}]},
          "mark": {"type": "text", "color": "#ffffff", "fontSize": 12, "fontWeight": "bold", "align": "center", "baseline": "middle"},
          "encoding": {
            "x": {"datum": {"year": 2019, "month": 11, "date": 12, "hours": 16, "minutes": 35, "utc": true}, "type": "temporal"},
            "y": {"field": "rsi", "type": "quantitative"},
            "text": {"field": "label"}
          }
        },
        {
          "data": {"values": [{"label": "RSI", "rsi": 54.43}]},
          "mark": {"type": "text", "color": "#ffffff", "fontSize": 11.5, "align": "center", "baseline": "middle"},
          "encoding": {
            "x": {"datum": {"year": 2019, "month": 11, "date": 6, "hours": 5, "minutes": 45, "utc": true}, "type": "temporal"},
            "y": {"field": "rsi", "type": "quantitative"},
            "text": {"field": "label"}
          }
        },
        {
          "data": {"values": [{"text": "Created with", "date": "2019-05-18T18:00:00Z", "rsi": 0}]},
          "mark": {"type": "text", "font": "Lato", "fontSize": 13, "color": "#131722", "align": "left", "baseline": "middle"},
          "encoding": {
            "x": {"field": "date", "type": "temporal"},
            "y": {"field": "rsi", "type": "quantitative"},
            "text": {"field": "text"}
          }
        },
        {
          "data": {"values": [{"text": "TradingView", "date": "2019-06-02T14:30:00Z", "rsi": 0}]},
          "mark": {"type": "text", "font": "Lato", "fontSize": 13, "color": "#3ba3dd", "align": "left", "baseline": "middle"},
          "encoding": {
            "x": {"field": "date", "type": "temporal"},
            "y": {"field": "rsi", "type": "quantitative"},
            "text": {"field": "text"}
          }
        },
        {
          "data": {"values": [{"date": "2019-05-31T19:00:00Z", "rsi": 0.3}]},
          "mark": {"type": "point", "shape": "M-1,0.35L-0.45,-0.25L0.05,0.2L0.55,-0.4L1,0.1", "size": 380, "filled": false, "stroke": "#5bb5e3", "strokeWidth": 2.5, "opacity": 1},
          "encoding": {
            "x": {"field": "date", "type": "temporal"},
            "y": {"field": "rsi", "type": "quantitative"}
          }
        },
        {
          "data": {"values": [{}]},
          "mark": {"type": "rule", "color": "#555555", "strokeWidth": 1},
          "encoding": {
            "x": {"datum": {"year": 2019, "month": 11, "date": 18, "hours": 13, "utc": true}, "type": "temporal"},
            "y": {"datum": 77.67, "type": "quantitative"},
            "y2": {"datum": 8.84}
          }
        },
        {
          "data": {"values": [{}]},
          "mark": {"type": "rule", "color": "#555555", "strokeWidth": 1},
          "encoding": {
            "x": {"datum": {"year": 2019, "month": 11, "date": 8, "hours": 15, "minutes": 22, "utc": true}, "type": "temporal"},
            "x2": {"datum": {"year": 2019, "month": 11, "date": 18, "hours": 13, "utc": true}},
            "y": {"datum": 20.93, "type": "quantitative"}
          }
        },
        {
          "data": {"values": [{}]},
          "mark": {"type": "rule", "color": "#555555", "strokeWidth": 1},
          "encoding": {
            "x": {"datum": {"year": 2019, "month": 5, "date": 18, "hours": 18, "utc": true}, "type": "temporal"},
            "x2": {"datum": {"year": 2019, "month": 11, "date": 18, "hours": 13, "utc": true}},
            "y": {"datum": 8.84, "type": "quantitative"}
          }
        },
        {
          "data": {"values": [{}]},
          "mark": {"type": "rule", "color": "#555555", "strokeWidth": 1},
          "encoding": {
            "x": {"datum": {"year": 2019, "month": 5, "date": 18, "hours": 18, "utc": true}, "type": "temporal"},
            "y": {"datum": 20.93, "type": "quantitative"},
            "y2": {"datum": 8.84}
          }
        },
        {
          "data": {"values": [{}]},
          "mark": {"type": "rule", "color": "#555555", "strokeWidth": 1},
          "encoding": {
            "x": {"datum": {"year": 2019, "month": 11, "date": 8, "hours": 15, "minutes": 22, "utc": true}, "type": "temporal"},
            "y": {"datum": 20.93, "type": "quantitative"},
            "y2": {"datum": 8.84}
          }
        }
      ]
    }
  ]
}
